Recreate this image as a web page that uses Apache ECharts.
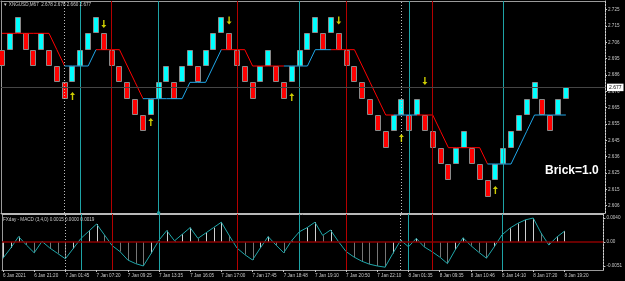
<!DOCTYPE html>
<html>
<head>
<meta charset="utf-8">
<script src="https://cdn.jsdelivr.net/npm/echarts@6.0.0/dist/echarts.min.js"></script>
<style>
  html, body { margin: 0; padding: 0; background: #000; }
  #chart { width: 625px; height: 281px; }
</style>
</head>
<body>
<div id="chart"></div>
<script>
// renko bricks (open / close), one per column
var brickOpen = [2.7005,2.7005,2.7105,2.7105,2.7005,2.7005,2.7005,2.6905,2.6805,2.6805,
  2.6905,2.7005,2.7105,2.7105,2.7005,2.6905,2.6805,2.6705,2.6605,2.6605,
  2.6705,2.6805,2.6805,2.6805,2.6905,2.6905,2.6905,2.7005,2.7105,2.7105,
  2.7005,2.6905,2.6805,2.6805,2.6905,2.6905,2.6805,2.6805,2.6905,2.7005,
  2.7105,2.7105,2.7105,2.7105,2.7005,2.6905,2.6805,2.6705,2.6605,2.6505,
  2.6505,2.6605,2.6605,2.6605,2.6605,2.6505,2.6405,2.6305,2.6305,2.6405,
  2.6405,2.6305,2.6205,2.6205,2.6305,2.6405,2.6505,2.6605,2.6705,2.6705,
  2.6605,2.6605,2.6705];
var brickClose = [2.6905,2.7105,2.7205,2.7005,2.6905,2.7105,2.6905,2.6805,2.6705,2.6905,
  2.7005,2.7105,2.7205,2.7005,2.6905,2.6805,2.6705,2.6605,2.6505,2.6705,
  2.6805,2.6905,2.6705,2.6905,2.7005,2.6805,2.7005,2.7105,2.7205,2.7005,
  2.6905,2.6805,2.6705,2.6905,2.7005,2.6805,2.6705,2.6905,2.7005,2.7105,
  2.7205,2.7005,2.7205,2.7005,2.6905,2.6805,2.6705,2.6605,2.6505,2.6405,
  2.6605,2.6705,2.6505,2.6705,2.6505,2.6405,2.6305,2.6205,2.6405,2.6505,
  2.6305,2.6205,2.6105,2.6305,2.6405,2.6505,2.6605,2.6705,2.6805,2.6605,
  2.6505,2.6705,2.6774];

// trend stop line and its direction (1 = up / blue, 0 = down / red) per segment
var trendLevel = [2.7105,2.7105,2.7105,2.7105,2.7105,2.7105,2.7105,2.7005,2.6905,2.6905,
  2.6905,2.6905,2.7005,2.7005,2.7005,2.7005,2.6905,2.6805,2.6705,2.6705,
  2.6705,2.6705,2.6705,2.6705,2.6805,2.6805,2.6805,2.6905,2.7005,2.7005,
  2.7005,2.7005,2.6905,2.6905,2.6905,2.6905,2.6905,2.6905,2.6905,2.6905,
  2.7005,2.7005,2.7005,2.7005,2.7005,2.7005,2.6905,2.6805,2.6705,2.6605,
  2.6605,2.6605,2.6605,2.6605,2.6605,2.6605,2.6505,2.6405,2.6405,2.6405,
  2.6405,2.6405,2.6305,2.6305,2.6305,2.6305,2.6405,2.6505,2.6605,2.6605,
  2.6605,2.6605,2.6605];
var trendUp = [0,0,0,0,0,0,0,0,1,1,
  1,1,0,0,0,0,0,0,1,1,
  1,1,1,1,1,1,1,1,0,0,
  0,0,0,0,0,0,1,1,1,1,
  1,1,0,0,0,0,0,0,0,0,
  1,1,1,0,0,0,0,0,0,0,
  0,0,1,1,1,1,1,1,1,1,
  1,1,1];

// signal arrows
var upArrowIdx = [9, 19, 37, 51, 63];
var upArrowPrice = [2.6721, 2.6562, 2.6715, 2.6464, 2.6146];
var downArrowIdx = [13, 29, 43, 54];
var downArrowPrice = [2.7162, 2.7184, 2.7184, 2.6813];

// vertical event lines (brick index)
var dottedLineIdx = [8, 51];
var tealLineIdx = [10, 20, 38, 52, 64];
var redLineIdx = [14, 30, 44, 55];
var selectedLineIdx = 20;

var currentPrice = 2.6774;

// MACD (3,4,0)
var macdValues = [-0.0027,-0.0010,0.0009,-0.0005,-0.0018,0.0001,-0.0010,-0.0019,-0.0028,-0.0011,
  0.0006,0.0018,0.0030,0.0012,-0.0006,-0.0016,-0.0030,-0.0036,-0.0040,-0.0019,
  0.0003,0.0019,0.0002,0.0013,0.0024,0.0006,0.0015,0.0024,0.0033,0.0011,
  -0.0010,-0.0021,-0.0030,-0.0010,0.0009,-0.0005,-0.0018,0.0002,0.0017,0.0024,
  0.0033,0.0011,0.0020,0.0001,-0.0016,-0.0025,-0.0032,-0.0037,-0.0040,-0.0042,
  -0.0019,0.0003,-0.0008,0.0006,-0.0008,-0.0016,-0.0025,-0.0036,-0.0013,0.0007,
  -0.0006,-0.0017,-0.0027,-0.0008,0.0012,0.0023,0.0031,0.0037,0.0040,0.0015,
  -0.0005,0.0008,0.0018];

// axis ticks
var priceTickValues = [2.725,2.715,2.705,2.695,2.685,2.675,2.665,2.655,2.645,2.635,2.625,2.615,2.605];
var priceTickLabels = ['2.725','2.715','2.706','2.695','2.686','2.676','2.665','2.655','2.645','2.636','2.625','2.615','2.606'];
var macdTickValues = [0.004, 0, -0.004];
var macdTickLabels = ['0.0040', '0.00', '-0.0051'];
var timeTickValues = [0,4,8,12,16,20,24,28,32,36,40,44,48,52,56,60,64,68,72];
var timeTickLabels = ['6 Jan 2021','6 Jan 21:20','7 Jan 01:45','7 Jan 07:20','7 Jan 09:25','7 Jan 13:35',
  '7 Jan 16:05','7 Jan 17:00','7 Jan 17:45','7 Jan 18:48','7 Jan 19:10','7 Jan 20:50','7 Jan 22:10',
  '8 Jan 01:35','8 Jan 09:35','8 Jan 10:46','8 Jan 14:10','8 Jan 17:20','8 Jan 19:20'];

var XMIN = -0.13, XMAX = 77;
var tickFont = { color: '#c8c8c8', fontSize: 4.6, fontFamily: 'Liberation Sans' };

function pick(values, labels) {
  return function (v) {
    for (var k = 0; k < values.length; k++) {
      if (Math.abs(values[k] - v) < 1e-7) return labels[k];
    }
    return '';
  };
}

var bricks = brickOpen.map(function (o, i) { return [i, o, brickClose[i]]; });

var trendRed = [], trendBlue = [];
trendLevel.forEach(function (v, i) {
  var segUp = trendUp[i], prevUp = i > 0 ? trendUp[i - 1] : -1;
  var last = i === trendLevel.length - 1;
  trendRed.push((!last && segUp === 0) || prevUp === 0 ? [i, v] : [i, null]);
  trendBlue.push((!last && segUp === 1) || prevUp === 1 ? [i, v] : [i, null]);
});

var upArrows = upArrowIdx.map(function (x, k) { return [x, upArrowPrice[k]]; });
var downArrows = downArrowIdx.map(function (x, k) { return [x, downArrowPrice[k]]; });
var macdData = macdValues.map(function (v, i) { return [i, v]; });

function vLines(withMarks) {
  var out = [];
  dottedLineIdx.forEach(function (x) { out.push({ xAxis: x, lineStyle: { color: '#bdbdbd', type: [1, 2], width: 1 } }); });
  tealLineIdx.forEach(function (x) {
    var item = { xAxis: x, lineStyle: { color: '#1ea3a6', type: 'solid', width: 1 } };
    if (withMarks && x === selectedLineIdx) {
      item.symbol = ['rect', 'rect'];
      item.symbolSize = 3;
      item.itemStyle = { color: '#d8f4f4' };
    }
    out.push(item);
  });
  redLineIdx.forEach(function (x) { out.push({ xAxis: x, lineStyle: { color: '#b40000', type: 'solid', width: 1 } }); });
  return out;
}

var chart = echarts.init(document.getElementById('chart'), null, { renderer: 'canvas' });

var option = {
  backgroundColor: '#000',
  animation: false,
  title: [
    { text: '\u25BC XNGUSD,M67  2.678 2.678 2.660 2.677', left: 3, top: 2, padding: 0,
      textStyle: { color: '#c8c8c8', fontSize: 4.6, fontWeight: 'normal', fontFamily: 'Liberation Sans' } },
    { text: 'FXday - MACD (3,4,0) 0.0015 0.0000 0.0019', left: 3, top: 217, padding: 0,
      textStyle: { color: '#c8c8c8', fontSize: 4.6, fontWeight: 'normal', fontFamily: 'Liberation Sans' } },
    { text: 'Brick=1.0', left: 545, top: 165, padding: 0,
      textStyle: { color: '#ffffff', fontSize: 12, fontWeight: 'bold', fontFamily: 'Liberation Sans' } }
  ],
  grid: [
    { left: 1, top: 1, width: 604, height: 212 },
    { left: 1, top: 214, width: 604, height: 56 }
  ],
  xAxis: [
    { gridIndex: 0, type: 'value', min: XMIN, max: XMAX, position: 'top',
      axisLine: { onZero: false, lineStyle: { color: '#9a9a9a', width: 1 } },
      axisTick: { show: false }, axisLabel: { show: false }, splitLine: { show: false } },
    { gridIndex: 0, type: 'value', min: XMIN, max: XMAX, position: 'bottom',
      axisLine: { onZero: false, lineStyle: { color: '#b8b8b8', width: 1 } },
      axisTick: { show: false }, axisLabel: { show: false }, splitLine: { show: false } },
    { gridIndex: 1, type: 'value', min: XMIN, max: XMAX, position: 'bottom',
      axisLine: { onZero: false, lineStyle: { color: '#9a9a9a', width: 1 } },
      axisTick: { show: true, customValues: timeTickValues, length: 2, lineStyle: { color: '#c8c8c8' } },
      axisLabel: Object.assign({ customValues: timeTickValues, formatter: pick(timeTickValues, timeTickLabels),
        align: 'left', margin: 3 }, tickFont),
      splitLine: { show: false } },
    { gridIndex: 1, type: 'value', min: XMIN, max: XMAX, position: 'top',
      axisLine: { onZero: false, lineStyle: { color: '#b8b8b8', width: 1 } },
      axisTick: { show: false }, axisLabel: { show: false }, splitLine: { show: false } }
  ],
  yAxis: [
    { gridIndex: 0, type: 'value', min: 2.6005, max: 2.7303, position: 'right',
      axisLine: { show: true, onZero: false, lineStyle: { color: '#d0d0d0', type: [2, 1], width: 1 } },
      axisTick: { show: true, customValues: priceTickValues, length: 2, lineStyle: { color: '#c8c8c8' } },
      axisLabel: Object.assign({ customValues: priceTickValues, formatter: pick(priceTickValues, priceTickLabels),
        margin: 3 }, tickFont),
      splitLine: { show: false } },
    { gridIndex: 0, type: 'value', position: 'left',
      axisLine: { show: true, onZero: false, lineStyle: { color: '#9a9a9a', width: 1 } },
      axisTick: { show: false }, axisLabel: { show: false }, splitLine: { show: false } },
    { gridIndex: 1, type: 'value', min: -0.00467, max: 0.00467, position: 'right',
      axisLine: { show: true, onZero: false, lineStyle: { color: '#d0d0d0', type: [2, 1], width: 1 } },
      axisTick: { show: true, customValues: macdTickValues, length: 2, lineStyle: { color: '#c8c8c8' } },
      axisLabel: Object.assign({ customValues: macdTickValues, formatter: pick(macdTickValues, macdTickLabels),
        margin: 3 }, tickFont),
      splitLine: { show: false } },
    { gridIndex: 1, type: 'value', position: 'left',
      axisLine: { show: true, onZero: false, lineStyle: { color: '#9a9a9a', width: 1 } },
      axisTick: { show: false }, axisLabel: { show: false }, splitLine: { show: false } }
  ],
  series: [
    {
      name: 'bricks', type: 'custom', xAxisIndex: 0, yAxisIndex: 0, z: 3,
      encode: { x: 0, y: [1, 2] },
      data: bricks,
      renderItem: function (params, api) {
        var i = api.value(0), o = api.value(1), c = api.value(2);
        var top = api.coord([i, Math.max(o, c)]);
        var bot = api.coord([i, Math.min(o, c)]);
        var y0 = Math.round(top[1]) + 0.5;
        var y1 = Math.round(bot[1]) - 0.5;
        return {
          type: 'rect',
          shape: { x: Math.round(top[0]) - 2.5, y: y0, width: 5, height: y1 - y0 },
          style: { fill: c > o ? '#00ffff' : '#ff0000', stroke: '#8a8a8a', lineWidth: 1 }
        };
      },
      markLine: {
        silent: true, symbol: ['none', 'none'], animation: false, precision: 6,
        label: { show: false },
        data: vLines(true).concat([{
          yAxis: currentPrice,
          lineStyle: { color: '#454545', type: 'solid', width: 1 },
          label: { show: true, position: 'end', distance: 2, formatter: '2.677',
            backgroundColor: '#ffffff', color: '#000000', fontSize: 5, padding: [1.5, 2, 1, 2],
            fontFamily: 'Liberation Sans' }
        }])
      }
    },
    { name: 'trendDown', type: 'line', xAxisIndex: 0, yAxisIndex: 0, z: 4, data: trendRed,
      symbol: 'none', connectNulls: false, lineStyle: { color: '#ff0000', width: 1 } },
    { name: 'trendUp', type: 'line', xAxisIndex: 0, yAxisIndex: 0, z: 4, data: trendBlue,
      symbol: 'none', connectNulls: false, lineStyle: { color: '#1fa6e8', width: 1 } },
    { name: 'buy', type: 'scatter', xAxisIndex: 0, yAxisIndex: 0, z: 5, data: upArrows,
      symbol: 'path://M2.5,0 L5,3 L3.2,3 L3.2,8 L1.8,8 L1.8,3 L0,3 Z', symbolSize: [5, 8],
      itemStyle: { color: '#ffff00' } },
    { name: 'sell', type: 'scatter', xAxisIndex: 0, yAxisIndex: 0, z: 5, data: downArrows,
      symbol: 'path://M2.5,8 L5,5 L3.2,5 L3.2,0 L1.8,0 L1.8,5 L0,5 Z', symbolSize: [5, 8],
      itemStyle: { color: '#ffff00' } },
    {
      name: 'macdHist', type: 'custom', xAxisIndex: 2, yAxisIndex: 2, z: 3,
      encode: { x: 0, y: 1 },
      data: macdData,
      renderItem: function (params, api) {
        var i = api.value(0), v = api.value(1);
        var prev = i > 0 ? macdValues[i - 1] : v;
        var p = api.coord([i, v]);
        var z = api.coord([i, 0]);
        var x = Math.round(p[0]) + 0.5;
        return {
          type: 'line',
          shape: { x1: x, y1: z[1], x2: x, y2: p[1] },
          style: { stroke: v >= prev ? '#d0d0d0' : '#767676', lineWidth: 1 }
        };
      },
      markLine: {
        silent: true, symbol: ['none', 'none'], animation: false, precision: 6, label: { show: false },
        data: vLines(false).concat([{ yAxis: 0, lineStyle: { color: '#8b0000', type: 'solid', width: 1.5 } }])
      }
    },
    { name: 'macd', type: 'line', xAxisIndex: 2, yAxisIndex: 2, z: 4, data: macdData,
      symbol: 'none', lineStyle: { color: '#1ea7aa', width: 1 } }
  ]
};

chart.setOption(option);
</script>
</body>
</html>
